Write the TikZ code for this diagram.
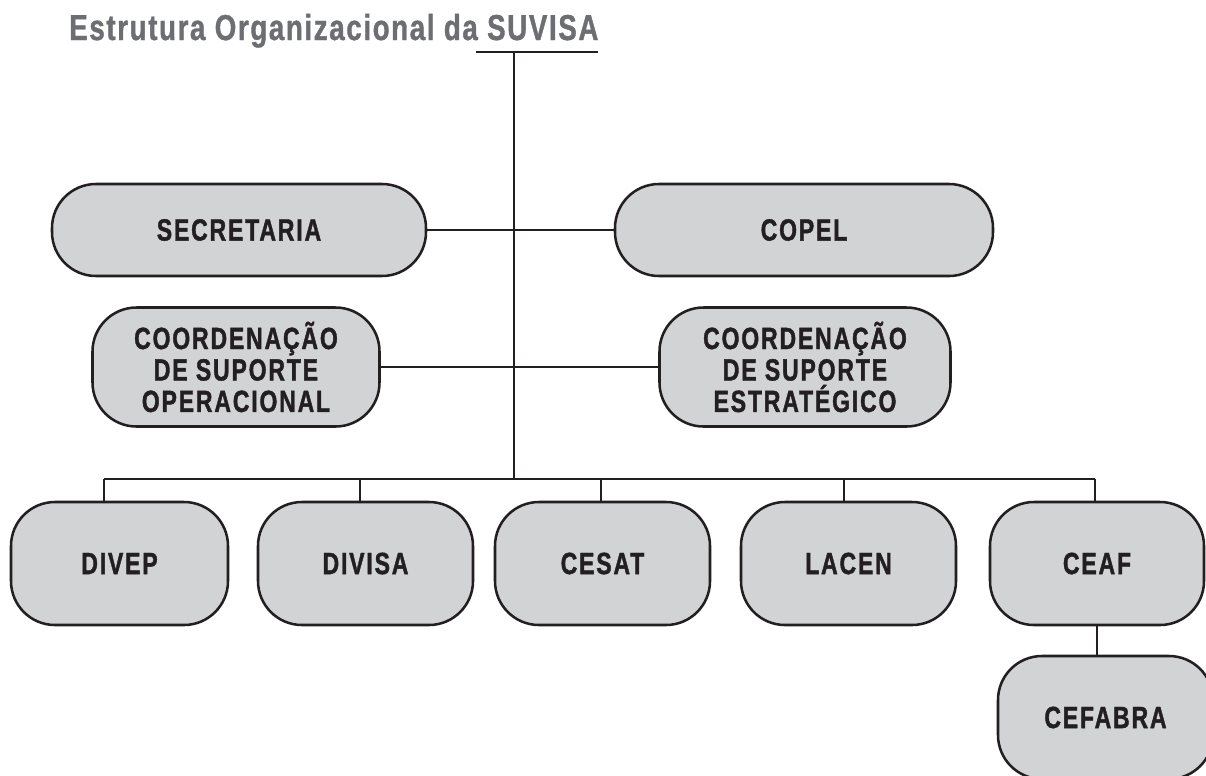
\documentclass[tikz,border=0pt]{standalone}
\usepackage{fontspec}
\newfontfamily\boxfont[FakeStretch=0.75,LetterSpace=6,FakeBold=1.3]{Liberation Sans}
\newfontfamily\headfont[FakeStretch=0.77,LetterSpace=4.5,FakeBold=1]{Liberation Sans}
\definecolor{boxGray}{HTML}{D1D3D4}
\definecolor{inkBlack}{HTML}{231F20}
\definecolor{headGray}{HTML}{6D6E71}
\begin{document}
\begin{tikzpicture}
[x=0.75pt,y=-0.75pt,
  wireDecorate/.style={-,line width=1.5pt,draw=inkBlack},%
  boxDecorate/.style={shape=rectangle,rounded corners=33pt,draw=inkBlack,
    line width=1.9pt,fill=boxGray,inner sep=0pt,align=center,text=inkBlack,
    font=\boxfont\bfseries\fontsize{23}{23.6}\selectfont}]
\useasboundingbox (0,0) rectangle (1206,775);
%% title
\node (title) at (69,40) [anchor=base west,inner sep=0pt,text=headGray,
  font=\headfont\bfseries\fontsize{27}{30}\selectfont] {Estrutura Organizacional da SUVISA};
%% boxes
\foreach \nodename/\x/\y/\w/\h/\boxtext in {
  secretaria/239/230/374/92/SECRETARIA, copel/804/230/378/92/COPEL,
  coordop/236/367/287/119/{COORDENAÇÃO\\DE SUPORTE\\OPERACIONAL},
  coordest/805/367/291/119/{COORDENAÇÃO\\DE SUPORTE\\ESTRATÉGICO},
  divep/119.5/563.5/217/123/DIVEP, divisa/365.5/563.5/215/123/DIVISA,
  cesat/602.5/563.5/215/123/CESAT, lacen/848.5/563.5/215/123/LACEN,
  ceaf/1097/563.5/214/123/CEAF, cefabra/1105.5/717.5/215/123/CEFABRA}
{
  \node (\nodename) at (\x,\y) [boxDecorate,minimum width={\w*0.75pt},
    minimum height={\h*0.75pt}] {\boxtext};
}
%% lines
\coordinate (ulStart) at (476,52);
\coordinate (ulEnd) at (598,52);
\coordinate (stem) at (514,52);
\coordinate (bus) at (514,479);
\coordinate (busWest) at (104,479);
\coordinate (busEast) at (1095,479);
\draw[wireDecorate] (ulStart) -- (ulEnd);
\draw[wireDecorate] (stem) -- (bus);
\draw[wireDecorate] (secretaria) -- (copel);
\draw[wireDecorate] (coordop) -- (coordest);
\draw[wireDecorate] (busWest) -- (busEast);
\foreach \nodename/\x in {divep/104, divisa/360, cesat/601, lacen/844, ceaf/1095}
{
  \coordinate (drop-\nodename) at (\x,479);
  \draw[wireDecorate] (drop-\nodename) -- (drop-\nodename |- \nodename.north);
}
\draw[wireDecorate] (ceaf.south) -- (ceaf.south |- cefabra.north);
\end{tikzpicture}
\end{document}
